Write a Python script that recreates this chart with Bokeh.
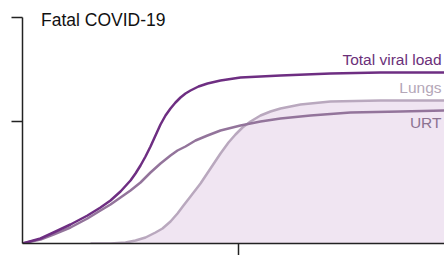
from bokeh.plotting import figure
from bokeh.models import ColumnDataSource, FixedTicker, Range1d
from bokeh.core.properties import value
from bokeh.embed import file_html
from bokeh.resources import INLINE

# Time (arbitrary units) and viral load (arbitrary units)
total_x = [0, 18, 31, 48, 65, 78, 88, 98, 108, 113, 118, 123, 128, 133, 138, 143, 148,
           153, 158, 163, 168, 176, 185, 198, 218, 258, 308, 358, 422]
total_y = [0, 5, 11, 19, 28, 36, 43, 52, 63, 70, 78, 87, 97, 108, 119, 128, 135,
           141, 146, 150, 153, 157, 160, 163, 166, 168, 170, 171, 171]

urt_x = [0, 18, 31, 48, 65, 78, 88, 98, 108, 118, 128, 138, 148, 155, 163, 173, 185,
         198, 218, 238, 258, 288, 328, 378, 422]
urt_y = [0, 4, 9, 16, 25, 33, 39, 46, 53, 61, 71, 80, 88, 93, 97, 103, 108,
         113, 118, 122, 125, 128, 131, 132, 133]

lungs_x = [68, 88, 103, 113, 123, 133, 140, 148, 155, 161, 168, 178, 188, 198, 206,
           213, 220, 228, 238, 248, 258, 278, 308, 358, 422]
lungs_y = [0, 0, 1, 3, 6, 11, 15, 22, 30, 38, 47, 60, 75, 90, 101,
           109, 116, 122, 128, 132, 135, 139, 142, 143, 143]

y_ticks = [122, 226]
x_ticks = [216]

title_text = "Fatal COVID-19"
label_text = ["Total viral load", "Lungs", "URT"]
label_x = [419, 419, 419]
label_y = [184, 156, 121]
label_color = ["#6b3079", "#b4a7b8", "#8c7391"]

p = figure(width=444, height=255, output_backend="svg", toolbar_location=None,
           x_range=Range1d(0, 422), y_range=Range1d(0, 243),
           min_border_left=22, min_border_right=0, min_border_top=0, min_border_bottom=12)
p.outline_line_color = None
p.xgrid.visible = False
p.ygrid.visible = False
p.background_fill_color = "white"

for ax in (p.xaxis[0], p.yaxis[0]):
    ax.axis_line_color = "#222222"
    ax.axis_line_width = 1.5
    ax.major_tick_line_color = "#222222"
    ax.major_tick_line_width = 1.5
    ax.minor_tick_line_color = None
    ax.major_tick_in = 0
    ax.major_label_standoff = 0

p.yaxis[0].ticker = FixedTicker(ticks=y_ticks)
p.yaxis[0].major_label_overrides = {t: "" for t in y_ticks}
p.yaxis[0].major_tick_out = 11
p.yaxis[0].bounds = (0, 226)
p.xaxis[0].ticker = FixedTicker(ticks=x_ticks)
p.xaxis[0].major_label_overrides = {t: "" for t in x_ticks}
p.xaxis[0].major_tick_out = 12

lungs_src = ColumnDataSource(dict(x=lungs_x, y=lungs_y, y0=[0] * len(lungs_x)))
p.varea(x="x", y1="y0", y2="y", source=lungs_src, fill_color="#f0e5f2")

p.line(lungs_x, lungs_y, line_color="#b9a8be", line_width=2.5, line_join="round")
p.line(urt_x, urt_y, line_color="#93749b", line_width=2.5, line_join="round")
p.line(total_x, total_y, line_color="#6e2e82", line_width=2.5, line_join="round")

lab_src = ColumnDataSource(dict(x=label_x, y=label_y, t=label_text, c=label_color))
p.text(x="x", y="y", text="t", text_color="c", source=lab_src,
       text_align="right", text_baseline="alphabetic",
       text_font=value("Liberation Sans"), text_font_size="15.5px")

p.text(x=[18.5], y=[224], text=[title_text], text_color="#111111",
       text_align="left", text_baseline="alphabetic",
       text_font=value("Liberation Sans"), text_font_size="17.5px")

open("out.html", "w").write(file_html(p, INLINE))
